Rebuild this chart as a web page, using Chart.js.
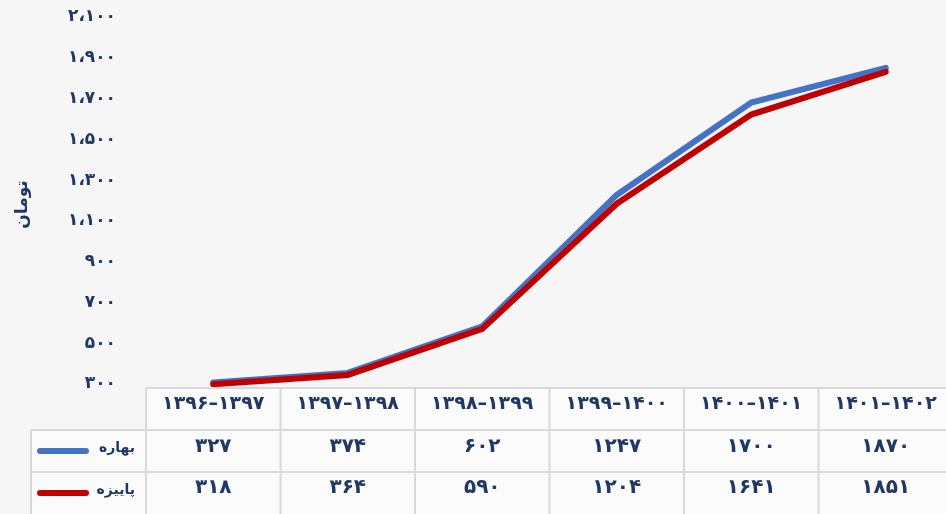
<!DOCTYPE html>
<html>
<head>
<meta charset="utf-8">
<script src="https://cdn.jsdelivr.net/npm/chart.js@4/dist/chart.umd.min.js"></script>
<style>
  html, body { margin: 0; padding: 0; background: #f6f6f6; overflow: hidden; }
  #wrap { width: 946px; height: 514px; overflow: hidden; position: relative; }
  canvas { display: block; }
</style>
</head>
<body>
<div id="wrap"><canvas id="c" width="953" height="514"></canvas></div>
<script>
// ---- data ----
const categories = ['۱۳۹۶–۱۳۹۷', '۱۳۹۷–۱۳۹۸', '۱۳۹۸–۱۳۹۹', '۱۳۹۹–۱۴۰۰', '۱۴۰۰–۱۴۰۱', '۱۴۰۱–۱۴۰۲'];
const seriesNames = ['بهاره', 'پاییزه'];
const springValues = [327, 374, 602, 1247, 1700, 1870];
const autumnValues = [318, 364, 590, 1204, 1641, 1851];
const yTicks = [300, 500, 700, 900, 1100, 1300, 1500, 1700, 1900, 2100];
const yTitle = 'تومان';

const FA = '۰۱۲۳۴۵۶۷۸۹';
function toFa(n, sep) {
  let s = String(n);
  if (sep) s = s.replace(/\B(?=(\d{3})+(?!\d))/g, '،');
  return s.replace(/\d/g, d => FA[d]);
}

const NAVY = '#1f3864';
const FONT = "'DejaVu Sans', sans-serif";
const colors = ['#4472c4', '#c00000'];

const tablePlugin = {
  id: 'dataTable',
  afterDraw(chart) {
    const ctx = chart.ctx;
    const x = chart.scales.x;
    const area = chart.chartArea;
    const n = categories.length;
    const step = (area.right - area.left) / n;
    const top = 388;
    const rowH = 42;
    const legendLeft = 31;
    ctx.save();
    ctx.fillStyle = '#fbfbfb';
    ctx.fillRect(area.left, top, area.right - area.left, rowH * 3);
    ctx.fillRect(legendLeft, top + rowH, area.left - legendLeft, rowH * 2);
    ctx.strokeStyle = '#d9d9d9';
    ctx.lineWidth = 2;
    ctx.beginPath();
    ctx.moveTo(area.left, top); ctx.lineTo(area.right, top);
    ctx.moveTo(legendLeft, top + rowH); ctx.lineTo(area.right, top + rowH);
    ctx.moveTo(legendLeft, top + rowH * 2); ctx.lineTo(area.right, top + rowH * 2);
    ctx.moveTo(legendLeft, top + rowH); ctx.lineTo(legendLeft, top + rowH * 3);
    for (let i = 0; i <= n; i++) {
      const xx = area.left + i * step;
      ctx.moveTo(xx, top); ctx.lineTo(xx, top + rowH * 3);
    }
    ctx.stroke();
    ctx.fillStyle = NAVY;
    ctx.textAlign = 'center';
    ctx.textBaseline = 'middle';
    categories.forEach((c, i) => {
      const cx = x.getPixelForValue(i);
      ctx.font = 'bold 19px ' + FONT;
      ctx.fillText(c, cx, top + rowH / 2 - 5);
      ctx.font = 'bold 20px ' + FONT;
      ctx.fillText(toFa(springValues[i]), cx, top + rowH * 1.5 - 4);
      ctx.fillText(toFa(autumnValues[i]), cx, top + rowH * 2.5 - 5);
    });
    [0, 1].forEach(k => {
      const cy = top + rowH * (1.5 + k);
      ctx.strokeStyle = colors[k];
      ctx.lineWidth = 6;
      ctx.lineCap = 'round';
      ctx.beginPath();
      ctx.moveTo(40, cy); ctx.lineTo(86, cy);
      ctx.stroke();
      ctx.fillStyle = NAVY;
      ctx.textAlign = 'right';
      ctx.font = 'bold 14px ' + FONT;
      ctx.fillText(seriesNames[k], 135, cy - 3);
    });
    ctx.restore();
  }
};

new Chart(document.getElementById('c'), {
  type: 'line',
  data: {
    labels: categories,
    datasets: [
      { label: seriesNames[0], data: springValues, borderColor: colors[0], backgroundColor: colors[0],
        borderWidth: 6, pointRadius: 0, tension: 0, order: 1, borderCapStyle: 'round' },
      { label: seriesNames[1], data: autumnValues, borderColor: colors[1], backgroundColor: colors[1],
        borderWidth: 6, pointRadius: 0, tension: 0, order: 0, borderCapStyle: 'round' }
    ]
  },
  options: {
    responsive: false,
    animation: false,
    layout: { padding: { top: 21, bottom: 126, left: 0, right: 0 } },
    plugins: { legend: { display: false }, tooltip: { enabled: false } },
    scales: {
      x: { type: 'category', display: false, offset: true },
      y: {
        min: 300, max: 2100,
        afterFit(s) { s.width = 146; },
        afterBuildTicks(s) { s.ticks = yTicks.map(v => ({ value: v })); },
        grid: { display: false, drawTicks: true, tickLength: 30 },
        border: { display: false },
        ticks: {
          color: NAVY, padding: 0, labelOffset: -4,
          font: { family: FONT, size: 17, weight: 'bold' },
          callback: v => toFa(v, true)
        },
        title: {
          display: true, text: yTitle, color: NAVY,
          font: { family: FONT, size: 17, weight: 'bold' },
          padding: { top: 12, bottom: 0 }
        }
      }
    }
  },
  plugins: [tablePlugin]
});
</script>
</body>
</html>
